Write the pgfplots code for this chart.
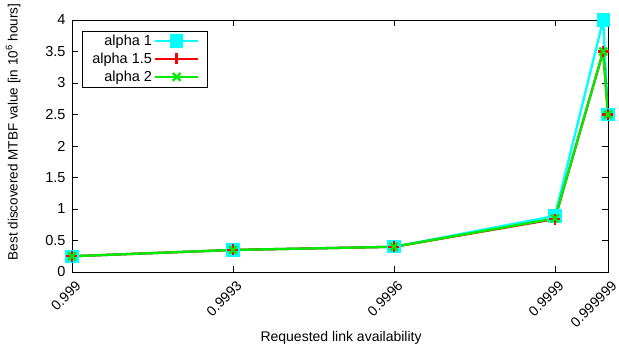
\documentclass[border=0pt]{standalone}
\usepackage{pgfplots}
\pgfplotsset{compat=1.18}
\usepackage{fontspec}
\setmainfont{Liberation Sans}
\definecolor{gcyan}{RGB}{0,255,255}
\definecolor{gred}{RGB}{255,0,0}
\definecolor{ggreen}{RGB}{0,235,0}
\begin{document}
\begin{tikzpicture}
\useasboundingbox (-72pt,-76pt) rectangle (547pt,272pt);
\begin{axis}[
  at={(0,0)}, anchor=south west,
  scale only axis,
  width=536pt, height=252pt,
  xmin=0.999, xmax=0.999999,
  ymin=0, ymax=4,
  xtick={0.999,0.9993,0.9996,0.9999,0.999999},
  xticklabels={0.999,0.9993,0.9996,0.9999,0.999999},
  ytick={0,0.5,1,1.5,2,2.5,3,3.5,4},
  yticklabels={0,0.5,1,1.5,2,2.5,3,3.5,4},
  x tick label style={rotate=45, anchor=north east, font=\fontsize{14}{16}\selectfont, yshift=-4pt},
  y tick label style={font=\fontsize{14.5}{16}\selectfont, xshift=-3pt},
  xlabel={Requested link availability},
  ylabel={Best discovered MTBF value [in 10\textsuperscript{6} hours]},
  xlabel style={font=\fontsize{14}{16}\selectfont, at={(axis description cs:0.502,-0.262)}, anchor=center},
  ylabel style={font=\fontsize{13.5}{16}\selectfont, at={(axis description cs:-0.11,0.556)}, anchor=center},
  tick align=inside,
  major tick length=6pt,
  tick style={black, line width=0.6pt},
  axis line style={black, line width=0.8pt},
  legend cell align=right,
  legend plot pos=right,
  legend style={font=\fontsize{14.5}{17}\selectfont, draw=black, line width=0.6pt,
    at={(axis description cs:0.0187,0.958)}, anchor=north west, row sep=2pt,
    inner xsep=8pt, inner ysep=2pt, nodes={inner sep=2pt}},
  legend image code/.code={
    \draw[mark repeat=2, mark phase=2, #1] plot coordinates {(0pt,0pt) (21.5pt,0pt) (43pt,0pt)};
  },
]
\addplot[gcyan, line width=2.3pt, mark=square*, mark size=5.5pt, mark options={fill=gcyan, solid}] coordinates {
 (0.999,0.25) (0.9993,0.35) (0.9996,0.40) (0.9999,0.89) (0.99999,4.0) (0.999999,2.5)};
\addlegendentry{alpha 1}
\addplot[gred, line width=2.3pt, mark=+, mark size=5.5pt] coordinates {
 (0.999,0.25) (0.9993,0.35) (0.9996,0.40) (0.9999,0.84) (0.99999,3.5) (0.999999,2.5)};
\addlegendentry{alpha 1.5}
\addplot[ggreen, line width=2.3pt, mark=x, mark size=5.5pt] coordinates {
 (0.999,0.25) (0.9993,0.35) (0.9996,0.40) (0.9999,0.85) (0.99999,3.5) (0.999999,2.5)};
\addlegendentry{alpha 2}
\end{axis}
\end{tikzpicture}
\end{document}
